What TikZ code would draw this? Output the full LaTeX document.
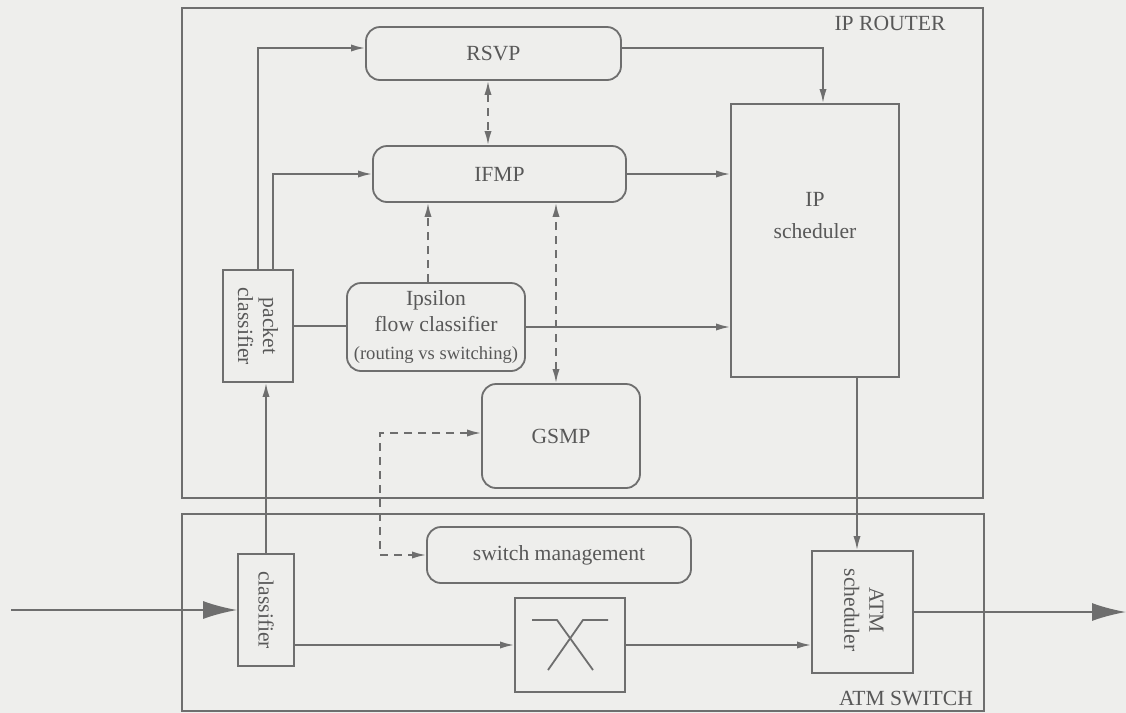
\documentclass[tikz,border=0pt]{standalone}
\usepackage{fontspec}
\setmainfont{Liberation Serif}
\usepackage{tikz}
\usetikzlibrary{positioning}
\usetikzlibrary{arrows.meta}
\pgfdeclarelayer{paperlayer}
\pgfdeclarelayer{nodelayer}
\pgfdeclarelayer{edgelayer}
\pgfsetlayers{paperlayer,nodelayer,edgelayer,main}
\definecolor{ink}{RGB}{110,110,110}
\definecolor{inktext}{RGB}{88,88,88}
\definecolor{paper}{RGB}{238,238,236}
\tikzset{
    none/.style = {inner sep=0pt},
    frame/.style = {draw=ink, line width=0.9pt, inner sep=0pt},
    block/.style = {draw=ink, line width=0.9pt, inner sep=0pt},
    softblock/.style = {block, rounded corners=7pt, text=inktext,
        font=\fontsize{10.8}{13}\selectfont, align=center},
    boxtext/.style = {inner sep=0pt, text=inktext,
        font=\fontsize{10.8}{12.5}\selectfont, align=center},
    flow/.style = {draw=ink, line width=0.9pt},
    signal/.style = {flow, dash pattern=on 4pt off 3pt}
}

\begin{document}
\begin{tikzpicture}[x=0.5pt, y=-0.5pt]
    % Set arrow tip globally
    \tikzset{>={Latex[length=7pt,width=3.6pt]}}
    \useasboundingbox (0,0) rectangle (1126,713);
    \begin{pgfonlayer}{paperlayer}
        \fill [paper] (0,0) rectangle (1126,713);
    \end{pgfonlayer}
    \begin{pgfonlayer}{nodelayer}
        \node [style=frame, minimum width=400.5pt, minimum height=245pt] (router) at (582.5, 253) {};
        \node [style=frame, minimum width=401pt, minimum height=98.5pt] (atmswitch) at (583, 612.5) {};
        \node [style=boxtext] (routertext) at (890, 23) {IP ROUTER};
        \node [style=boxtext] (switchtext) at (906, 699) {ATM SWITCH};
        \node [style=softblock, minimum width=127.5pt, minimum height=26.5pt] (rsvp) at (493.5, 53.5) {RSVP};
        \node [style=softblock, minimum width=126.5pt, minimum height=28pt] (ifmp) at (499.5, 174) {IFMP};
        \node [style=block, minimum width=84pt, minimum height=136.5pt] (ipsched) at (815, 240.5) {};
        \node [style=boxtext, font=\fontsize{10.8}{16}\selectfont] (ipschedtext) at (815, 216) {IP\\scheduler};
        \node [style=block, minimum width=35pt, minimum height=56pt] (pktcls) at (258, 326) {};
        \node [style=boxtext, rotate=-90] (pktclstext) at (pktcls) {packet\\classifier};
        \node [style=softblock, minimum width=89pt, minimum height=44pt] (ipsilon) at (436, 327)
            {Ipsilon\\flow classifier\\[1pt]{\fontsize{9.3}{11}\selectfont (routing vs switching)}};
        \node [style=softblock, minimum width=79pt, minimum height=52pt] (gsmp) at (561, 436) {GSMP};
        \node [style=softblock, minimum width=132pt, minimum height=28pt] (swmgmt) at (559, 555) {switch management};
        \node [style=block, minimum width=28pt, minimum height=56pt] (cls) at (266, 610) {};
        \node [style=boxtext, rotate=-90] (clstext) at (cls) {classifier};
        \node [style=block, minimum width=55pt, minimum height=47pt] (fabric) at (570, 645) {};
        \node [style=block, minimum width=50.5pt, minimum height=61pt] (atmsched) at (862.5, 612) {};
        \node [style=boxtext, rotate=-90] (atmschedtext) at (864, 610) {ATM\\scheduler};
        \coordinate (in) at (11, 610);
        \coordinate (out) at (1126, 612);
    \end{pgfonlayer}
    \begin{pgfonlayer}{edgelayer}
        \draw [style=flow, ->] (cls.north) to (cls.north |- pktcls.south);
        \draw [style=flow, ->] (pktcls.north) |- ([yshift=2.75pt]rsvp.west);
        \draw [style=flow, ->] ([xshift=7.5pt]pktcls.north) |- (ifmp.west);
        \draw [style=flow, ->] ([yshift=2.75pt]rsvp.east) -| ([xshift=4pt]ipsched.north);
        \draw [style=flow, ->] (ifmp.east) to (ifmp.east -| ipsched.west);
        \draw [style=flow] (pktcls.east) to (pktcls.east -| ipsilon.west);
        \draw [style=flow, ->] (ipsilon.east) to (ipsilon.east -| ipsched.west);
        \draw [style=signal, <->] ([xshift=-2.75pt]rsvp.south) to ([xshift=-2.75pt]rsvp.south |- ifmp.north);
        \draw [style=signal, ->] ([xshift=-4pt]ipsilon.north) to ([xshift=-4pt]ipsilon.north |- ifmp.south);
        \draw [style=signal, <->] ([xshift=-2.5pt]gsmp.north) to ([xshift=-2.5pt]gsmp.north |- ifmp.south);
        \draw [style=signal, <->] ([yshift=1.5pt]gsmp.west) -| ([xshift=-23pt]swmgmt.west) to (swmgmt.west);
        \draw [style=flow, ->] ([xshift=21pt]ipsched.south) to ([xshift=21pt]ipsched.south |- atmsched.north);
        \draw [style=flow, ->] (cls.east |- fabric.west) to (fabric.west);
        \draw [style=flow, ->] (fabric.east) to (fabric.east -| atmsched.west);
        \draw [style=flow, -{Latex[length=17pt,width=9pt]}] (in) to (cls.west);
        \draw [style=flow, -{Latex[length=17pt,width=9pt]}] (atmsched.east) to (out);
        % crossbar inside the switch fabric
        \draw [style=flow] (532, 620) to (557, 620) to (593, 670);
        \draw [style=flow] (608, 620) to (583, 620) to (548, 670);
    \end{pgfonlayer}
\end{tikzpicture}
\end{document}
